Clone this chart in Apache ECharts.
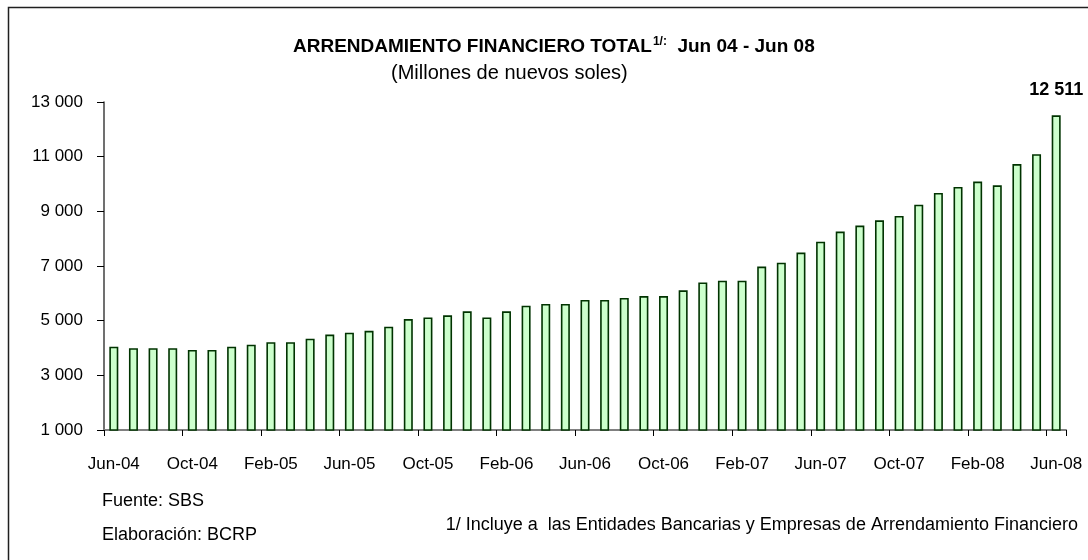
<!DOCTYPE html>
<html>
<head>
<meta charset="utf-8">
<script src="https://cdn.jsdelivr.net/npm/echarts@6/dist/echarts.min.js"></script>
<style>
  html, body { margin: 0; padding: 0; background: #fff; }
  #chart { width: 1088px; height: 560px; }
</style>
</head>
<body>
<div id="chart"></div>
<script>
  // meses (jun-04 a jun-08)
  var categories = [
    'Jun-04', 'Jul-04', 'Aug-04', 'Sep-04', 'Oct-04', 'Nov-04', 'Dec-04',
    'Jan-05', 'Feb-05', 'Mar-05', 'Apr-05', 'May-05', 'Jun-05', 'Jul-05',
    'Aug-05', 'Sep-05', 'Oct-05', 'Nov-05', 'Dec-05', 'Jan-06', 'Feb-06',
    'Mar-06', 'Apr-06', 'May-06', 'Jun-06', 'Jul-06', 'Aug-06', 'Sep-06',
    'Oct-06', 'Nov-06', 'Dec-06', 'Jan-07', 'Feb-07', 'Mar-07', 'Apr-07',
    'May-07', 'Jun-07', 'Jul-07', 'Aug-07', 'Sep-07', 'Oct-07', 'Nov-07',
    'Dec-07', 'Jan-08', 'Feb-08', 'Mar-08', 'Apr-08', 'May-08', 'Jun-08'
  ]
  // millones de nuevos soles
  var totalValues = [
    4050, 3990, 3990, 3990, 3930, 3930, 4050,
    4120, 4210, 4210, 4340, 4490, 4560, 4630,
    4780, 5060, 5120, 5195, 5340, 5120, 5340,
    5550, 5610, 5610, 5760, 5760, 5830, 5900,
    5900, 6110, 6400, 6460, 6460, 6980, 7120,
    7490, 7890, 8260, 8480, 8670, 8830, 9240,
    9670, 9890, 10090, 9950, 10730, 11090, 12511
  ]
  var yTicks = [1000, 3000, 5000, 7000, 9000, 11000, 13000]

  var fontFam = "'Liberation Sans', Arial, sans-serif"

  function fmtMiles(v) {
    return String(v).replace(/\B(?=(\d{3})+(?!\d))/g, ' ')
  }

  // solo el último dato lleva etiqueta
  var lastIdx = totalValues.length - 1
  var barData = totalValues.map(function (v, i) {
    if (i !== lastIdx) return v
    return {
      value: v,
      label: {
        show: true,
        position: 'top',
        distance: 16,
        formatter: function (p) { return fmtMiles(p.value) },
        fontFamily: fontFam,
        fontWeight: 'bold',
        fontSize: 18,
        color: '#000'
      }
    }
  })

  var chart = echarts.init(document.getElementById('chart'), null, { renderer: 'canvas' })
  chart.setOption({
    backgroundColor: '#fff',
    animation: false,
    title: [
      {
        left: 288,
        top: 31,
        text: '{b|ARRENDAMIENTO FINANCIERO TOTAL}{sup|1/:}{b|  Jun 04 - Jun 08}',
        textStyle: {
          rich: {
            b: { fontFamily: fontFam, fontWeight: 'bold', fontSize: 19, color: '#000', lineHeight: 22 },
            sup: { fontFamily: fontFam, fontSize: 12, color: '#000', verticalAlign: 'top', lineHeight: 22, padding: [0, 0, 10, 1] }
          }
        }
      },
      {
        left: 386,
        top: 58,
        text: '(Millones de nuevos soles)',
        textStyle: { fontFamily: fontFam, fontWeight: 'normal', fontSize: 20, color: '#000' }
      }
    ],
    grid: {
      left: 104,
      right: 22,
      top: 102,
      bottom: 130,
      containLabel: false
    },
    xAxis: {
      type: 'category',
      data: categories,
      boundaryGap: true,
      axisLine: { lineStyle: { color: '#808080', width: 2 } },
      axisTick: { show: true, interval: 3, length: 6, alignWithLabel: false, lineStyle: { color: '#000', width: 1 } },
      axisLabel: {
        interval: 3,
        margin: 26,
        color: '#000',
        fontFamily: fontFam,
        fontSize: 17
      },
      splitLine: { show: false }
    },
    yAxis: {
      type: 'value',
      min: yTicks[0],
      max: yTicks[yTicks.length - 1],
      interval: 2000,
      axisLine: { show: true, lineStyle: { color: '#404040', width: 1.5 } },
      axisTick: { show: true, length: 7, lineStyle: { color: '#000', width: 1 } },
      axisLabel: {
        margin: 21,
        color: '#000',
        fontFamily: fontFam,
        fontSize: 17,
        formatter: function (v) { return fmtMiles(v) }
      },
      splitLine: { show: false }
    },
    series: [
      {
        name: 'Arrendamiento financiero',
        type: 'bar',
        data: barData,
        barWidth: 9,
        itemStyle: {
          color: '#CCFFCC',
          borderColor: '#003300',
          borderWidth: 1.6
        }
      }
    ],
    graphic: [
      {
        type: 'rect',
        silent: true,
        shape: { x: 8.5, y: 7.5, width: 1200, height: 700 },
        style: { fill: null, stroke: '#202020', lineWidth: 1.5 }
      },
      {
        type: 'text',
        left: 102,
        top: 492,
        style: { text: 'Fuente: SBS', fontFamily: fontFam, fontSize: 18, fill: '#000' }
      },
      {
        type: 'text',
        left: 102,
        top: 526,
        style: { text: 'Elaboración: BCRP', fontFamily: fontFam, fontSize: 18, fill: '#000' }
      },
      {
        type: 'text',
        right: 10,
        top: 516,
        style: {
          text: '1/ Incluye a  las Entidades Bancarias y Empresas de Arrendamiento Financiero',
          fontFamily: fontFam, fontSize: 18, fill: '#000'
        }
      }
    ]
  })
</script>
</body>
</html>
